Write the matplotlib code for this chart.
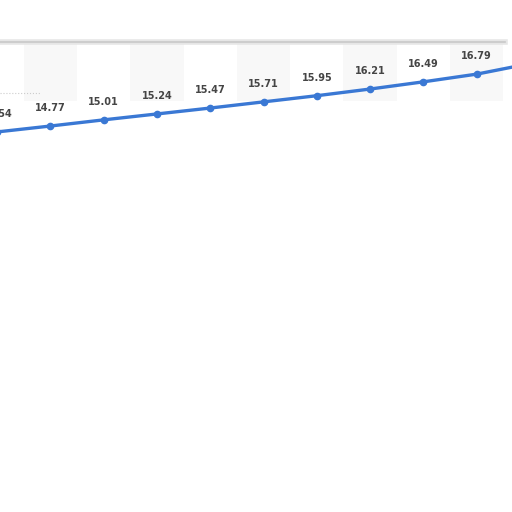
import matplotlib.pyplot as plt
import numpy as np

# values (first point cut at left edge, last one off canvas)
values = [14.54, 14.77, 15.01, 15.24, 15.47, 15.71, 15.95, 16.21, 16.49, 16.79, 17.2]
labels = ['14.54', '14.77', '15.01', '15.24', '15.47', '15.71', '15.95', '16.21', '16.49', '16.79']
x = np.arange(len(values))

fig = plt.figure(figsize=(5.12, 5.12), dpi=100)
ax = fig.add_axes([0, 0, 505 / 512, 470 / 512])
ax.set_xlim(0.056, 9.53)
ax.set_ylim(-0.25, 18.04)

# alternating column bands in the top panel
for i in x:
    if i % 2 == 1:
        ax.axvspan(i - 0.5, i + 0.5, ymin=0.875, ymax=1, color='#f8f8f8', lw=0, zorder=0)

# faint dotted grid piece at left
ax.axhline(16.05, xmin=0, xmax=0.08, color='#cccccc', lw=0.8, ls=':', zorder=1)

ax.plot(x, values, color='#3a78d4', lw=2.4, marker='o', ms=4.5,
        solid_capstyle='round', clip_on=False, zorder=3)

for xi, v, lab in zip(x, values, labels):
    ax.annotate(lab, (xi, v), xytext=(0, 13), textcoords='offset points',
                ha='center', va='center', fontsize=7, fontweight='bold',
                family='DejaVu Sans', color='#454545', annotation_clip=False)

for side in ['left', 'right', 'bottom']:
    ax.spines[side].set_visible(False)
ax.spines['top'].set_color('#c8c8c8')
ax.spines['top'].set_linewidth(1.2)
ax.set_xticks([])
ax.set_yticks([])

# soft shadow above the panel border
ax.axhline(18.04, color='#e6e6e6', lw=4, zorder=0, clip_on=False)

fig.savefig('out.png', dpi=100, facecolor='white')
